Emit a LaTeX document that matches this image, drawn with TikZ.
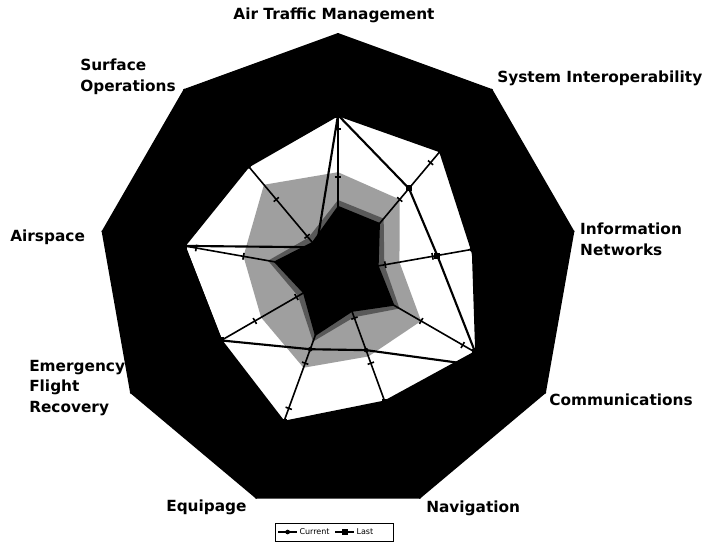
\documentclass[tikz,border=0pt]{standalone}
\usepackage{fontspec}
\setmainfont{DejaVu Sans}
\usetikzlibrary{calc}
\usetikzlibrary{positioning}

\begin{document}
\begin{tikzpicture}[x=36pt, y=36pt, style={align=left, inner sep=0pt, font=\bfseries\fontsize{11.5}{15.5}\selectfont},
		spoke/.style={line width=1.2pt},
		series/.style={line width=1.6pt, line join=round},
		cmark/.style={circle, fill, inner sep=0pt, minimum size=3.5pt},
		lmark/.style={rectangle, fill, inner sep=0pt, minimum size=4.5pt},
		legtext/.style={font=\mdseries\fontsize{6}{7}\selectfont}]
	\useasboundingbox (-7.0417,-5.7917) rectangle (7.75,5.6875);
	\coordinate (O) at (0,0);
	\fill[white] (90:3.29) -- (50:3.31) -- (10:2.83) -- (-30:3.3) -- (-70:2.85) -- (-110:3.3) -- (-150:2.81) -- (170:3.25) -- (130:2.9) -- cycle;
	\fill[gray!75] (90:2.1) -- (50:2.0) -- (10:1.3) -- (-30:2.0) -- (-70:1.85) -- (-110:2.1) -- (-150:1.85) -- (170:2.0) -- (130:2.4) -- cycle;
	\fill[black!65] (90:1.52) -- (50:1.48) -- (10:0.98) -- (-30:1.48) -- (-70:0.98) -- (-110:1.52) -- (-150:0.96) -- (170:1.48) -- (130:0.96) -- cycle;
	\fill[black] (90:1.4) -- (50:1.36) -- (10:0.86) -- (-30:1.36) -- (-70:0.86) -- (-110:1.4) -- (-150:0.84) -- (170:1.36) -- (130:0.84) -- cycle;
	\foreach \a [count=\i] in {90,50,...,-230} {
		\coordinate (S\i) at (\a:5);
		\draw[spoke] (O) -- (S\i);
		\foreach \r in {1,2,3}
			\draw[spoke] ($(\a:\r)+(\a+90:0.07)$) -- ($(\a:\r)+(\a-90:0.07)$);
	}
	\foreach \a/\r [count=\i] in {170/3.25, 130/0.7, 90/3.29, 50/2.3, 10/2.1, -30/3.3, -70/2.85, -110/3.3, -150/2.81}
		\node[lmark] (L\i) at (\a:\r) {};
	\draw[series] (L1.center) -- (L2.center) -- (L3.center) -- (L4.center) -- (L5.center) -- (L6.center) -- (L7.center) -- (L8.center) -- (L9.center) -- cycle;
	\foreach \a/\r [count=\i] in {90/3.29, 50/3.31, 10/2.83, -30/4, -70/1.71, -110/1.69, -150/2.81, 170/3.25, 130/2.9}
		\node[cmark] (C\i) at (\a:\r) {};
	\draw[series] (C1.center) -- (C2.center) -- (C3.center) -- (C4.center) -- (C5.center) -- (C6.center) -- (C7.center) -- (C8.center) -- (C9.center) -- cycle;
	\fill[black, even odd rule] (S1) -- (S2) -- (S3) -- (S4) -- (S5) -- (S6) -- (S7) -- (S8) -- (S9) -- cycle
		(90:3.29) -- (50:3.31) -- (10:2.83) -- (-30:3.3) -- (-70:2.85) -- (-110:3.3) -- (-150:2.81) -- (170:3.25) -- (130:2.9) -- cycle;
	\node (ATM) at (-0.083,5.375) {Air Traffic Management};
	\node[anchor=west] (SI) at (3.3125,4.0625) {System Interoperability};
	\node[anchor=west] (IN) at (5.04,0.698) {Information\\Networks};
	\node[anchor=west] (CO) at (4.396,-2.646) {Communications};
	\node[anchor=west] (NA) at (1.833,-4.896) {Navigation};
	\node[anchor=west] (EQ) at (-3.583,-4.875) {Equipage};
	\node[anchor=west] (EF) at (-6.4375,-2.396) {Emergency\\Flight\\Recovery};
	\node[anchor=west] (AS) at (-6.833,0.75) {Airspace};
	\node[anchor=west] (SO) at (-5.375,4.083) {Surface\\Operations};
	\node[draw, line width=0.5pt, minimum width=88.5pt, minimum height=13.5pt] (K) at (-0.083,-5.396) {};
	\coordinate (K1) at ($(K.west)+(0.07,0)$);
	\coordinate (K2) at ($(K1)+(0.4,0)$);
	\draw[line width=0.8pt] (K1) -- node[cmark] (KM1) {} (K2);
	\node[legtext, right=1.5pt of K2] (KC) {Current};
	\coordinate[right=4pt of KC] (K3);
	\coordinate (K4) at ($(K3)+(0.4,0)$);
	\draw[line width=0.8pt] (K3) -- node[lmark] (KM2) {} (K4);
	\node[legtext, right=1.5pt of K4] (KL) {Last};
\end{tikzpicture}
\end{document}
